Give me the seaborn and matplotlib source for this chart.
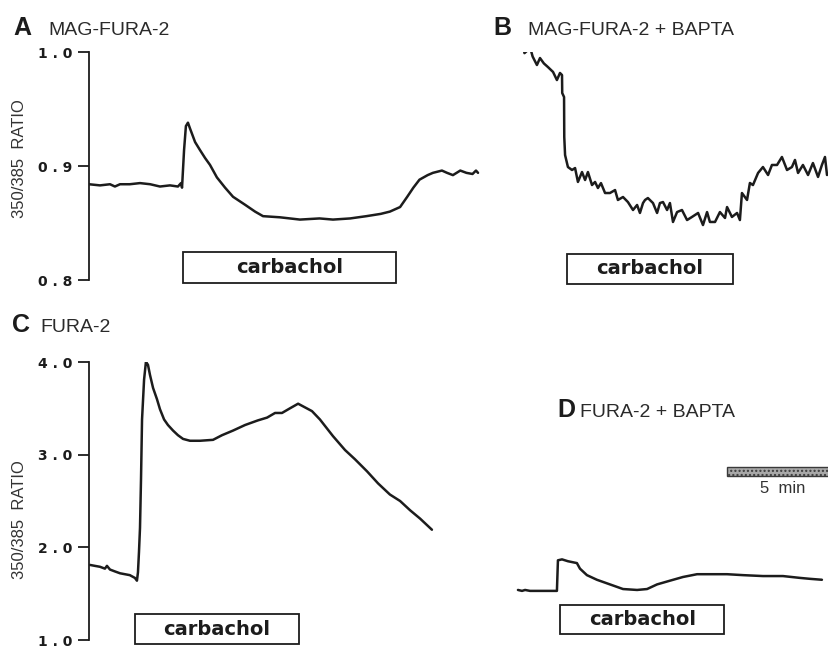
import matplotlib
matplotlib.use("Agg")
import matplotlib.pyplot as plt
from matplotlib.patches import Rectangle
import seaborn as sns
import pandas as pd

# traces: time in minutes from the left edge of each panel,
# 350/385 fluorescence ratio
a_time = [0.0, 0.54, 1.03, 1.27, 1.52, 2.0, 2.5, 3.0, 3.48, 3.97, 4.36, 4.51, 4.56,
          4.66, 4.75, 4.85, 4.95, 5.2, 5.44, 5.69, 5.93, 6.27, 6.67, 7.06, 7.65,
          8.14, 8.53, 9.36, 10.34, 11.3, 11.96, 12.8, 13.6, 14.3, 14.75, 15.25,
          15.6, 15.9, 16.2, 16.6, 16.86, 17.3, 17.55, 17.84, 18.2, 18.5, 18.8,
          18.97, 19.07]
a_ratio = [0.884, 0.883, 0.884, 0.882, 0.884, 0.884, 0.885, 0.884, 0.882, 0.883,
           0.882, 0.885, 0.881, 0.914, 0.935, 0.938, 0.933, 0.921, 0.914, 0.907,
           0.901, 0.890, 0.881, 0.873, 0.866, 0.860, 0.856, 0.855, 0.853, 0.854,
           0.853, 0.854, 0.856, 0.858, 0.860, 0.864, 0.873, 0.881, 0.888, 0.892,
           0.894, 0.896, 0.894, 0.892, 0.896, 0.894, 0.893, 0.896, 0.894]

b_time = [1.08, 1.2, 1.37, 1.47, 1.6, 1.81, 1.96, 2.15, 2.35, 2.6, 2.79, 2.94,
          3.04, 3.05, 3.14, 3.15, 3.19, 3.33, 3.53, 3.68, 3.82, 4.02, 4.17, 4.31,
          4.51, 4.66, 4.8, 4.95, 5.15, 5.39, 5.64, 5.78, 6.03, 6.27, 6.52, 6.72,
          6.86, 7.01, 7.11, 7.25, 7.5, 7.7, 7.84, 7.99, 8.19, 8.33, 8.48, 8.68,
          8.92, 9.17, 9.41, 9.71, 9.95, 10.15, 10.29, 10.54, 10.78, 11.03, 11.13,
          11.37, 11.62, 11.76, 11.86, 12.11, 12.25, 12.4, 12.65, 12.89, 13.14,
          13.33, 13.58, 13.82, 14.07, 14.31, 14.46, 14.61, 14.85, 15.1, 15.34,
          15.59, 15.78, 15.93, 16.03]
b_ratio = [1.0105, 0.9990, 1.0018, 1.0044, 0.9960, 0.9886, 0.9947, 0.9900, 0.9868,
           0.9825, 0.9754, 0.9816, 0.9798, 0.9640, 0.9605, 0.9254, 0.9096, 0.8991,
           0.8965, 0.8982, 0.8860, 0.8947, 0.8877, 0.8947, 0.8833, 0.8860, 0.8807,
           0.8850, 0.8763, 0.8763, 0.8789, 0.8702, 0.8728, 0.8684, 0.8614, 0.8658,
           0.8588, 0.8675, 0.8702, 0.8719, 0.8675, 0.8588, 0.8675, 0.8684, 0.8614,
           0.8675, 0.8509, 0.8596, 0.8614, 0.8526, 0.8553, 0.8588, 0.8482, 0.8596,
           0.8509, 0.8509, 0.8596, 0.8544, 0.8640, 0.8553, 0.8588, 0.8526, 0.8763,
           0.8702, 0.8851, 0.8833, 0.8939, 0.8991, 0.8921, 0.9009, 0.9009, 0.9079,
           0.8965, 0.8991, 0.9053, 0.8939, 0.9009, 0.8921, 0.9026, 0.8904, 0.9009,
           0.9079, 0.8921]

c_time = [0.05, 0.29, 0.54, 0.78, 0.88, 1.03, 1.27, 1.52, 1.76, 2.0, 2.25, 2.35,
          2.4, 2.45, 2.5, 2.55, 2.6, 2.7, 2.79, 2.89, 2.99, 3.14, 3.33, 3.48, 3.68,
          3.87, 4.12, 4.36, 4.61, 4.95, 5.44, 6.08, 6.52, 7.06, 7.65, 8.28, 8.73,
          9.12, 9.46, 9.85, 10.25, 10.59, 10.93, 11.32, 11.96, 12.55, 13.04, 13.63,
          14.17, 14.75, 15.25, 15.74, 16.23, 16.81]
c_ratio = [1.81, 1.80, 1.79, 1.77, 1.80, 1.76, 1.74, 1.72, 1.71, 1.70, 1.67, 1.64,
           1.73, 1.95, 2.21, 2.74, 3.38, 3.81, 4.00, 3.97, 3.86, 3.72, 3.60, 3.49,
           3.38, 3.32, 3.26, 3.21, 3.17, 3.15, 3.15, 3.16, 3.21, 3.26, 3.32, 3.37,
           3.40, 3.45, 3.45, 3.50, 3.55, 3.51, 3.47, 3.38, 3.20, 3.05, 2.95, 2.82,
           2.69, 2.57, 2.50, 2.40, 2.31, 2.19]

d_time = [0.88, 1.08, 1.23, 1.47, 1.72, 2.21, 2.79, 2.84, 3.04, 3.33, 3.77, 3.92,
          4.26, 4.75, 5.39, 6.03, 6.72, 7.21, 7.7, 8.33, 8.97, 9.66, 10.29, 11.13,
          11.91, 12.89, 13.87, 14.71, 15.2, 15.78]
d_ratio = [1.54, 1.53, 1.54, 1.53, 1.53, 1.53, 1.53, 1.86, 1.87, 1.85, 1.83, 1.77,
           1.70, 1.65, 1.60, 1.55, 1.54, 1.55, 1.60, 1.64, 1.68, 1.71, 1.71, 1.71,
           1.70, 1.69, 1.69, 1.67, 1.66, 1.65]

# carbachol application (start, end) in minutes for each panel
carbachol = {"A": (4.6, 15.05), "B": (3.28, 11.42), "C": (2.25, 10.29), "D": (2.94, 11.0)}

top_ticks = [0.8, 0.9, 1.0]
top_tick_labels = ["0.8", "0.9", "1.0"]
bottom_ticks = [1.0, 2.0, 3.0, 4.0]
bottom_tick_labels = ["1.0", "2.0", "3.0", "4.0"]

titles = {"A": "MAG-FURA-2", "B": "MAG-FURA-2 + BAPTA", "C": "FURA-2", "D": "FURA-2 + BAPTA"}

sns.set_theme(style="white")
plt.rcParams["font.family"] = ["Liberation Sans", "DejaVu Sans"]

W, H = 829, 648
PX_PER_MIN = 20.4
INK = "#1c1c1c"

fig = plt.figure(figsize=(W / 100, H / 100), dpi=100)


def panel(left, top, right, bottom, ylim):
    ax = fig.add_axes([left / W, 1 - bottom / H, (right - left) / W, (bottom - top) / H])
    ax.set_xlim(0, (right - left) / PX_PER_MIN)
    ax.set_ylim(*ylim)
    ax.patch.set_alpha(0)
    for s in ax.spines.values():
        s.set_visible(False)
    ax.set_xticks([])
    ax.set_yticks([])
    return ax


def trace(ax, t, r):
    df = pd.DataFrame({"time": t, "ratio": r})
    sns.lineplot(data=df, x="time", y="ratio", ax=ax, color=INK, linewidth=1.8,
                 estimator=None, sort=False)
    ax.set_xlabel("")
    ax.set_ylabel("")


def ratio_axis(ax, ticks, labels):
    ax.spines["left"].set_visible(True)
    ax.spines["left"].set_color(INK)
    ax.spines["left"].set_linewidth(1.3)
    ax.spines["left"].set_bounds(ticks[0], ticks[-1])
    ax.set_yticks(ticks)
    ax.set_yticklabels([" ".join(l) for l in labels], family="DejaVu Sans",
                       fontweight="bold", fontsize=10, color=INK)
    ax.tick_params(axis="y", left=True, length=8, width=1.3, color=INK, pad=4)


def carbachol_box(ax, span, y0, y1):
    t0, t1 = span
    ax.add_patch(Rectangle((t0, y0), t1 - t0, y1 - y0, facecolor="white",
                           edgecolor=INK, linewidth=1.3, clip_on=False))
    ax.text((t0 + t1) / 2, (y0 + y1) / 2, "carbachol", ha="center", va="center",
            fontsize=14, fontweight="bold", family="DejaVu Sans", color=INK)


axA = panel(89, 52, 480, 280, (0.8, 1.0))
axB = panel(500, 52, 829, 280, (0.8, 1.0))
axC = panel(89, 362, 440, 640, (1.0, 4.0))
axD = panel(500, 362, 829, 640, (1.0, 4.0))

trace(axA, a_time, a_ratio)
trace(axB, b_time, b_ratio)
trace(axC, c_time, c_ratio)
trace(axD, d_time, d_ratio)

ratio_axis(axA, top_ticks, top_tick_labels)
ratio_axis(axC, bottom_ticks, bottom_tick_labels)

# y axis titles
for yc in (159, 520):
    fig.text(20 / W, 1 - yc / H, "350/385  RATIO", rotation=90, ha="center",
             va="center", fontsize=12, color="#333333")

carbachol_box(axA, carbachol["A"], 0.7974, 0.8246)
carbachol_box(axB, carbachol["B"], 0.7965, 0.8228)
carbachol_box(axC, carbachol["C"], 0.955, 1.28)
carbachol_box(axD, carbachol["D"], 1.06, 1.38)

# 5 min scale bar
axD.add_patch(Rectangle((11.13, 2.766), 5.0, 0.106, facecolor="#a8a8a8",
                        edgecolor="#3a3a3a", linewidth=1.0, hatch="....", clip_on=False))
axD.text(13.87, 2.63, "5  min", ha="center", va="center", fontsize=12, color="#333333")

# panel letters and titles
for key, (lx, tx, base) in {"A": (13, 48, 35), "B": (493, 528, 35),
                            "C": (12, 40, 332), "D": (557, 580, 417)}.items():
    fig.text(lx / W, 1 - base / H, key, fontsize=18, fontweight="bold", color=INK,
             va="baseline")
    fig.text(tx / W, 1 - base / H, titles[key], fontsize=14, color="#2a2a2a",
             va="baseline")

fig.savefig("out.png", dpi=100, facecolor="white")
